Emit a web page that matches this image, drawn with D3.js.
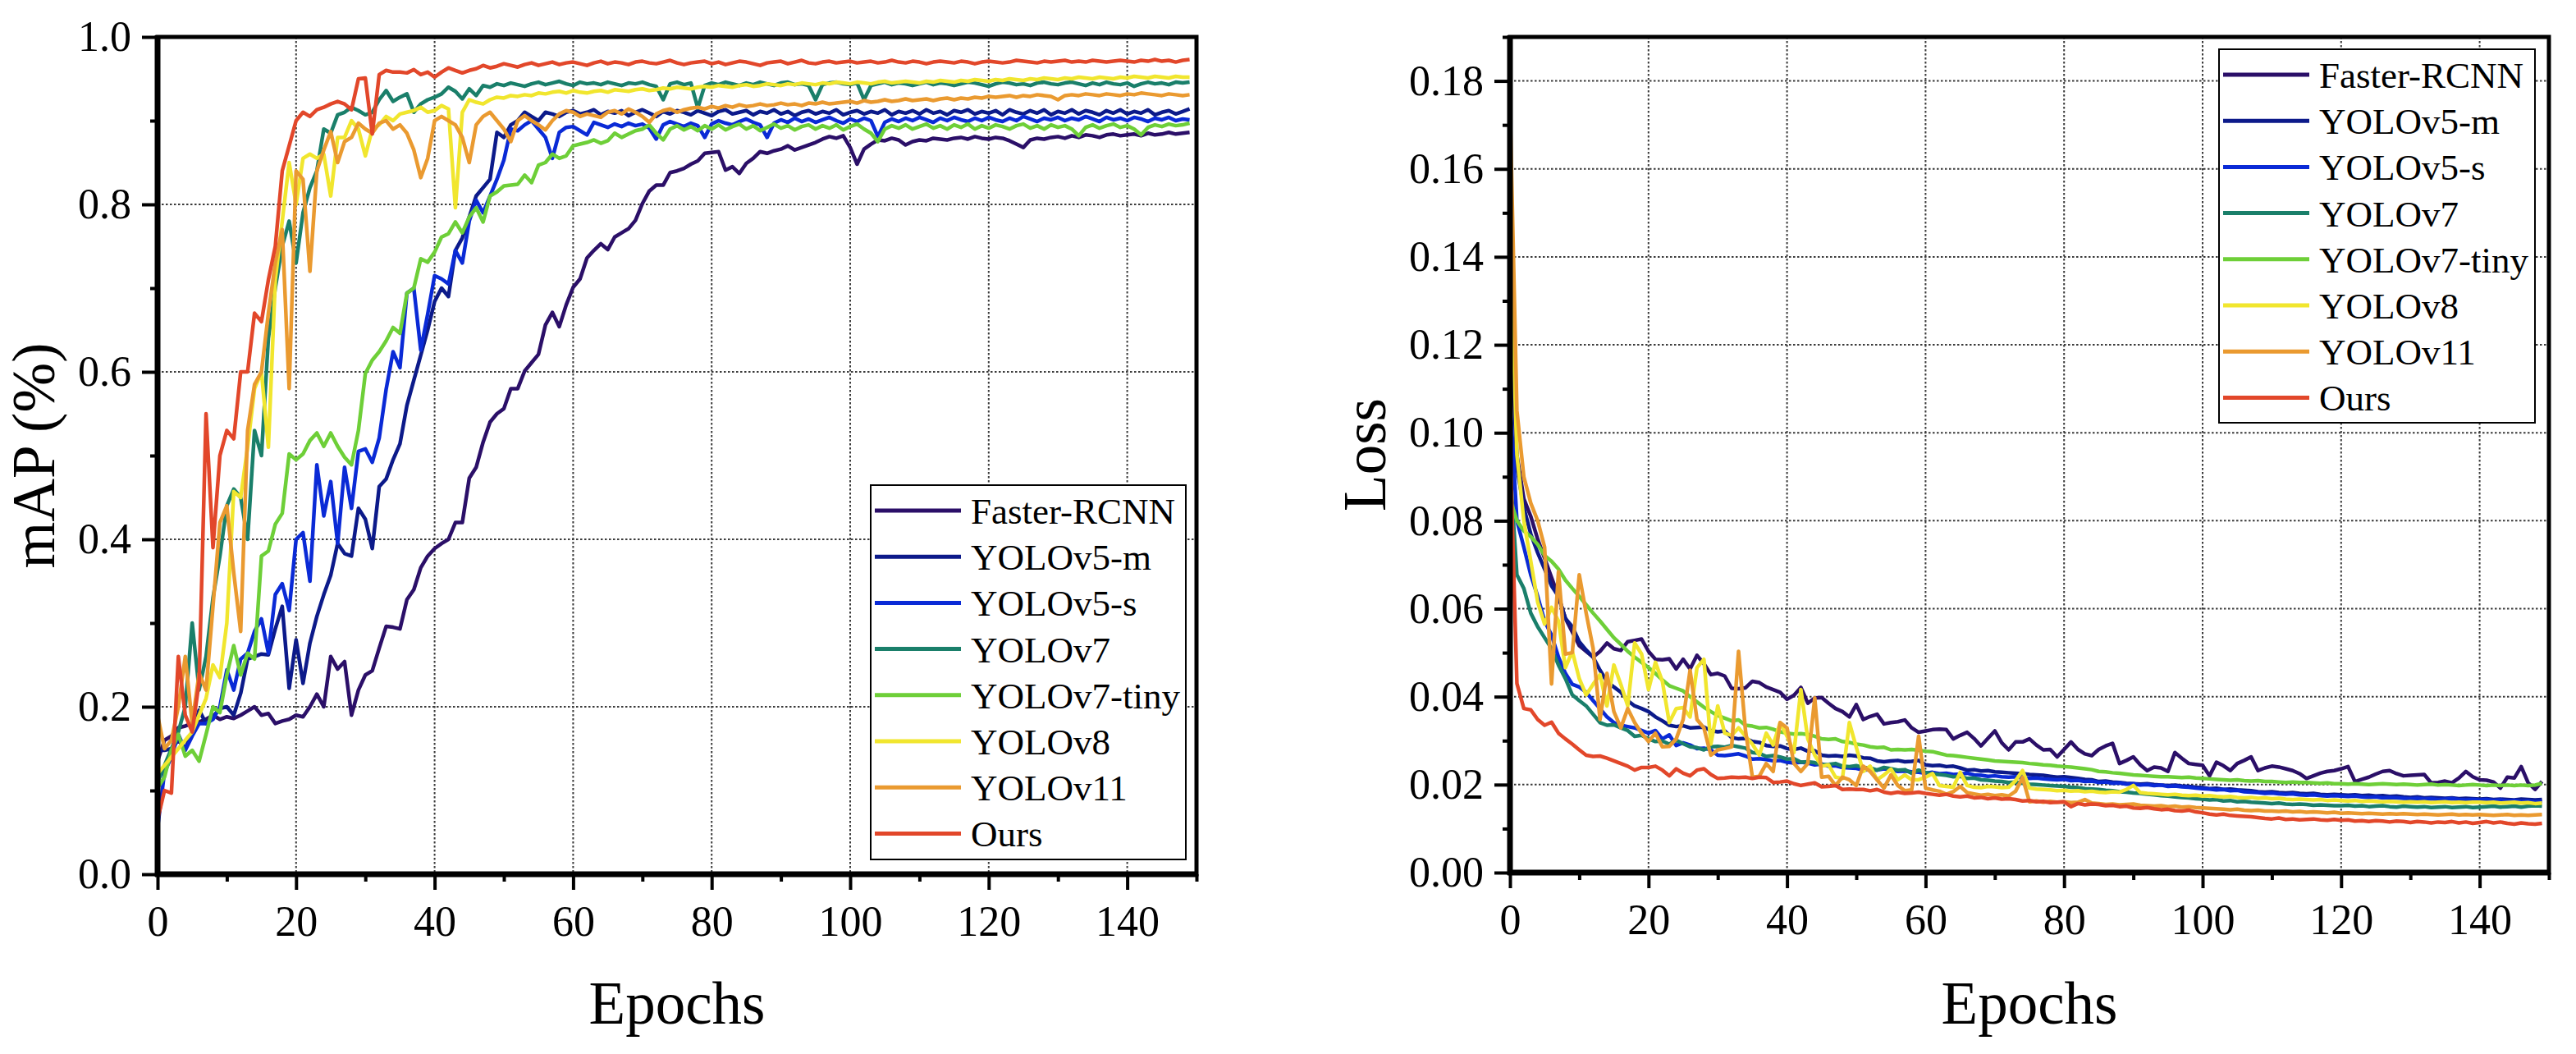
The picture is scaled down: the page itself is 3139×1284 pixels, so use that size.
<!DOCTYPE html>
<html>
<head>
<meta charset="utf-8">
<script src="https://cdn.jsdelivr.net/npm/d3@7"></script>
<style>
  html, body { margin: 0; padding: 0; background: #fff; }
  svg { display: block; }
</style>
</head>
<body>
<svg id="chart" width="3139" height="1284"></svg>
<script>
// ─── Data (one value per epoch 0..149) ────────────────────────────────────────
const seriesNames  = ['Faster-RCNN', 'YOLOv5-m', 'YOLOv5-s', 'YOLOv7', 'YOLOv7-tiny', 'YOLOv8', 'YOLOv11', 'Ours'];
const seriesColors = ['#2b0f68', '#0c1a8a', '#0a2ad6', '#1a7f6a', '#6ecf38', '#f1e62e', '#ea9a30', '#e2472a'];

const mapXTicks  = [0, 20, 40, 60, 80, 100, 120, 140];
const mapYTicks  = [0.0, 0.2, 0.4, 0.6, 0.8, 1.0];
const lossYTicks = [0.00, 0.02, 0.04, 0.06, 0.08, 0.10, 0.12, 0.14, 0.16, 0.18];

// mAP curves
const mapFaster = [
  0.135,0.16,0.165,0.175,0.177,0.18,0.182,0.185,0.19,0.185,
  0.188,0.186,0.19,0.195,0.20,0.19,0.192,0.18,0.183,0.185,
  0.19,0.188,0.20,0.215,0.20,0.26,0.245,0.254,0.19,0.22,
  0.238,0.243,0.27,0.296,0.295,0.293,0.328,0.340,0.366,0.38,
  0.389,0.395,0.40,0.42,0.42,0.473,0.486,0.516,0.54,0.550,
  0.556,0.58,0.58,0.601,0.611,0.621,0.656,0.671,0.654,0.680,
  0.701,0.711,0.736,0.745,0.753,0.746,0.761,0.766,0.771,0.781,
  0.801,0.816,0.823,0.823,0.838,0.840,0.843,0.848,0.852,0.861,
  0.862,0.863,0.841,0.845,0.837,0.849,0.855,0.863,0.861,0.864,
  0.866,0.870,0.865,0.868,0.871,0.874,0.878,0.881,0.879,0.882,
  0.868,0.848,0.866,0.872,0.877,0.876,0.879,0.877,0.871,0.875,
  0.877,0.876,0.879,0.878,0.877,0.879,0.880,0.878,0.881,0.879,
  0.878,0.880,0.879,0.876,0.872,0.868,0.877,0.879,0.878,0.880,
  0.881,0.879,0.882,0.880,0.883,0.882,0.880,0.883,0.884,0.882,
  0.883,0.884,0.882,0.885,0.883,0.884,0.886,0.884,0.885,0.886
];
const mapV5m = [
  0.148,0.148,0.150,0.160,0.150,0.170,0.196,0.180,0.188,0.198,
  0.20,0.19,0.216,0.257,0.26,0.263,0.262,0.293,0.32,0.222,
  0.28,0.228,0.276,0.308,0.334,0.357,0.395,0.383,0.38,0.437,
  0.424,0.389,0.463,0.472,0.495,0.514,0.56,0.59,0.62,0.65,
  0.684,0.70,0.69,0.745,0.76,0.785,0.81,0.82,0.83,0.886,
  0.88,0.895,0.90,0.91,0.905,0.90,0.91,0.908,0.905,0.91,
  0.912,0.908,0.910,0.913,0.907,0.911,0.909,0.912,0.906,0.910,
  0.913,0.909,0.905,0.911,0.908,0.912,0.910,0.907,0.912,0.909,
  0.906,0.911,0.913,0.908,0.910,0.912,0.907,0.911,0.909,0.913,
  0.908,0.911,0.906,0.910,0.912,0.908,0.911,0.909,0.913,0.907,
  0.910,0.912,0.908,0.911,0.909,0.913,0.907,0.911,0.909,0.912,
  0.908,0.913,0.909,0.911,0.907,0.912,0.910,0.913,0.908,0.911,
  0.909,0.912,0.907,0.913,0.910,0.908,0.912,0.909,0.913,0.907,
  0.911,0.909,0.913,0.908,0.912,0.910,0.907,0.912,0.909,0.913,
  0.908,0.911,0.909,0.913,0.907,0.910,0.912,0.908,0.911,0.914
];
const mapV5s = [
  0.055,0.122,0.14,0.167,0.148,0.165,0.18,0.18,0.185,0.20,
  0.244,0.22,0.257,0.264,0.29,0.305,0.264,0.334,0.347,0.315,
  0.40,0.408,0.35,0.489,0.428,0.469,0.395,0.486,0.437,0.505,
  0.508,0.492,0.521,0.579,0.624,0.605,0.694,0.70,0.626,0.669,
  0.715,0.711,0.705,0.745,0.73,0.78,0.805,0.79,0.81,0.83,
  0.853,0.89,0.888,0.895,0.90,0.89,0.88,0.855,0.886,0.892,
  0.893,0.888,0.883,0.898,0.895,0.892,0.896,0.893,0.897,0.894,
  0.896,0.891,0.878,0.895,0.899,0.896,0.893,0.897,0.894,0.880,
  0.896,0.900,0.897,0.895,0.899,0.902,0.898,0.895,0.880,0.897,
  0.901,0.898,0.903,0.899,0.902,0.898,0.901,0.904,0.900,0.897,
  0.902,0.899,0.903,0.900,0.881,0.898,0.902,0.899,0.903,0.900,
  0.904,0.901,0.898,0.903,0.900,0.904,0.901,0.899,0.903,0.900,
  0.904,0.901,0.899,0.903,0.900,0.905,0.902,0.899,0.903,0.901,
  0.904,0.900,0.903,0.901,0.905,0.902,0.899,0.904,0.901,0.903,
  0.900,0.904,0.902,0.899,0.903,0.901,0.904,0.900,0.902,0.901
];
const mapV7 = [
  0.11,0.13,0.15,0.17,0.20,0.30,0.22,0.26,0.33,0.38,
  0.44,0.46,0.45,0.40,0.53,0.50,0.64,0.70,0.75,0.78,
  0.73,0.79,0.82,0.84,0.89,0.885,0.907,0.91,0.916,0.912,
  0.907,0.91,0.925,0.936,0.923,0.928,0.932,0.91,0.92,0.925,
  0.928,0.932,0.940,0.935,0.926,0.938,0.930,0.942,0.940,0.944,
  0.942,0.945,0.943,0.941,0.944,0.946,0.943,0.945,0.947,0.944,
  0.942,0.946,0.944,0.945,0.943,0.946,0.944,0.942,0.945,0.944,
  0.946,0.943,0.941,0.925,0.944,0.946,0.943,0.945,0.915,0.942,
  0.945,0.943,0.946,0.944,0.942,0.945,0.943,0.946,0.944,0.942,
  0.945,0.946,0.943,0.944,0.942,0.925,0.943,0.945,0.946,0.944,
  0.943,0.945,0.925,0.942,0.944,0.946,0.943,0.945,0.944,0.942,
  0.944,0.946,0.943,0.945,0.944,0.942,0.944,0.946,0.945,0.943,
  0.941,0.944,0.946,0.945,0.943,0.944,0.942,0.945,0.946,0.944,
  0.943,0.945,0.946,0.944,0.942,0.945,0.943,0.946,0.944,0.943,
  0.945,0.941,0.944,0.946,0.944,0.945,0.943,0.946,0.945,0.946
];
const mapV7tiny = [
  0.103,0.116,0.148,0.167,0.141,0.148,0.135,0.167,0.20,0.193,
  0.238,0.273,0.238,0.264,0.257,0.38,0.386,0.418,0.431,0.502,
  0.495,0.502,0.518,0.527,0.511,0.527,0.511,0.498,0.489,0.53,
  0.598,0.614,0.624,0.637,0.653,0.646,0.694,0.70,0.735,0.731,
  0.743,0.761,0.765,0.779,0.766,0.785,0.796,0.779,0.81,0.815,
  0.822,0.823,0.824,0.835,0.826,0.847,0.850,0.860,0.855,0.858,
  0.870,0.872,0.874,0.877,0.873,0.876,0.885,0.880,0.884,0.888,
  0.890,0.895,0.885,0.877,0.890,0.894,0.889,0.893,0.888,0.894,
  0.890,0.895,0.889,0.893,0.896,0.890,0.894,0.888,0.892,0.896,
  0.891,0.894,0.889,0.893,0.895,0.890,0.894,0.891,0.895,0.889,
  0.893,0.896,0.890,0.885,0.875,0.890,0.894,0.891,0.895,0.890,
  0.893,0.896,0.891,0.894,0.890,0.895,0.892,0.896,0.890,0.894,
  0.891,0.895,0.893,0.890,0.894,0.896,0.891,0.894,0.890,0.895,
  0.892,0.894,0.890,0.882,0.892,0.895,0.891,0.894,0.896,0.892,
  0.894,0.890,0.883,0.892,0.895,0.893,0.896,0.894,0.895,0.897
];
const mapV8 = [
  0.12,0.13,0.14,0.15,0.16,0.17,0.19,0.21,0.25,0.235,
  0.30,0.457,0.45,0.51,0.58,0.60,0.51,0.71,0.78,0.85,
  0.80,0.855,0.86,0.855,0.86,0.81,0.88,0.88,0.90,0.89,
  0.858,0.89,0.895,0.905,0.90,0.908,0.91,0.912,0.916,0.91,
  0.912,0.918,0.914,0.796,0.91,0.925,0.922,0.920,0.925,0.928,
  0.927,0.930,0.929,0.931,0.930,0.933,0.932,0.934,0.935,0.933,
  0.936,0.934,0.933,0.935,0.936,0.934,0.937,0.936,0.935,0.937,
  0.938,0.936,0.937,0.939,0.938,0.940,0.939,0.938,0.940,0.941,
  0.940,0.942,0.941,0.940,0.942,0.943,0.941,0.942,0.944,0.943,
  0.942,0.944,0.943,0.945,0.944,0.943,0.945,0.944,0.946,0.945,
  0.944,0.946,0.945,0.944,0.946,0.947,0.945,0.946,0.947,0.946,
  0.945,0.947,0.946,0.948,0.947,0.946,0.948,0.947,0.949,0.948,
  0.947,0.949,0.948,0.950,0.949,0.948,0.950,0.949,0.951,0.950,
  0.949,0.951,0.950,0.952,0.951,0.950,0.952,0.951,0.950,0.952,
  0.951,0.953,0.952,0.951,0.953,0.952,0.951,0.953,0.952,0.952
];
const mapV11 = [
  0.19,0.15,0.16,0.20,0.26,0.18,0.24,0.22,0.32,0.42,
  0.44,0.36,0.29,0.53,0.585,0.60,0.67,0.73,0.77,0.58,
  0.84,0.83,0.72,0.84,0.865,0.887,0.85,0.875,0.88,0.897,
  0.89,0.885,0.897,0.90,0.89,0.895,0.885,0.865,0.832,0.855,
  0.90,0.905,0.90,0.895,0.88,0.85,0.895,0.905,0.91,0.90,
  0.89,0.875,0.90,0.906,0.90,0.895,0.889,0.90,0.908,0.912,
  0.910,0.905,0.908,0.906,0.904,0.910,0.912,0.908,0.914,0.910,
  0.905,0.898,0.908,0.912,0.914,0.910,0.913,0.915,0.916,0.914,
  0.917,0.915,0.918,0.916,0.919,0.917,0.918,0.920,0.918,0.919,
  0.921,0.919,0.920,0.918,0.921,0.920,0.922,0.920,0.921,0.922,
  0.923,0.921,0.924,0.922,0.923,0.925,0.923,0.924,0.926,0.924,
  0.925,0.926,0.924,0.926,0.927,0.925,0.927,0.926,0.928,0.927,
  0.929,0.928,0.929,0.930,0.928,0.930,0.929,0.931,0.930,0.929,
  0.925,0.930,0.931,0.930,0.932,0.931,0.930,0.932,0.931,0.930,
  0.932,0.931,0.933,0.932,0.931,0.930,0.932,0.931,0.930,0.931
];
const mapOurs = [
  0.065,0.10,0.097,0.26,0.19,0.17,0.23,0.55,0.39,0.50,
  0.53,0.52,0.60,0.60,0.67,0.66,0.71,0.75,0.84,0.87,
  0.90,0.91,0.905,0.913,0.916,0.92,0.923,0.92,0.913,0.95,
  0.951,0.884,0.955,0.96,0.958,0.958,0.957,0.961,0.955,0.958,
  0.952,0.958,0.963,0.960,0.957,0.960,0.962,0.966,0.963,0.965,
  0.968,0.966,0.964,0.967,0.969,0.966,0.968,0.970,0.967,0.969,
  0.970,0.968,0.966,0.969,0.971,0.968,0.970,0.969,0.967,0.970,
  0.971,0.969,0.968,0.970,0.972,0.969,0.967,0.969,0.970,0.971,
  0.968,0.970,0.967,0.969,0.971,0.970,0.968,0.966,0.969,0.970,
  0.971,0.968,0.970,0.972,0.969,0.968,0.970,0.971,0.969,0.970,
  0.971,0.969,0.970,0.971,0.969,0.970,0.972,0.970,0.969,0.971,
  0.970,0.968,0.970,0.971,0.970,0.969,0.971,0.970,0.968,0.970,
  0.971,0.970,0.969,0.970,0.972,0.971,0.970,0.969,0.971,0.970,
  0.971,0.972,0.970,0.971,0.970,0.972,0.971,0.970,0.971,0.972,
  0.971,0.970,0.972,0.971,0.973,0.971,0.972,0.970,0.972,0.973
];

// Loss curves
const lossFaster = [
  0.128,0.095,0.085,0.081,0.0758,0.0715,0.0671,0.0628,0.0578,0.0547,
  0.0516,0.0503,0.049,0.0503,0.0522,0.0509,0.0505,0.0525,0.0528,0.0531,
  0.0503,0.0485,0.0484,0.0486,0.0463,0.0485,0.0463,0.0494,0.0475,0.045,
  0.0453,0.0447,0.0419,0.0418,0.042,0.0435,0.0432,0.0422,0.0416,0.041,
  0.0394,0.0403,0.0421,0.0385,0.0397,0.0398,0.0385,0.0373,0.0366,0.0354,
  0.0382,0.0348,0.0355,0.036,0.0338,0.0341,0.0343,0.0347,0.0329,0.0319,
  0.0322,0.0325,0.0326,0.0325,0.0304,0.0312,0.0319,0.0305,0.0288,0.0305,
  0.0322,0.0295,0.0279,0.0297,0.0297,0.0304,0.029,0.0279,0.028,0.0263,
  0.028,0.0297,0.028,0.027,0.0266,0.028,0.0288,0.0294,0.0248,0.0255,
  0.0263,0.0245,0.0232,0.024,0.0238,0.023,0.0273,0.026,0.0248,0.0246,
  0.0244,0.022,0.0251,0.0243,0.0232,0.0248,0.0255,0.0263,0.0232,0.0238,
  0.0242,0.024,0.0236,0.0232,0.0225,0.0214,0.022,0.0226,0.023,0.0232,
  0.0236,0.0241,0.0207,0.0212,0.0217,0.0224,0.023,0.0232,0.0225,0.022,
  0.0221,0.0222,0.0223,0.0204,0.0205,0.0208,0.0204,0.0215,0.023,0.0218,
  0.0211,0.021,0.0206,0.0192,0.0217,0.0215,0.0241,0.0204,0.0189,0.0207
];
const lossV5m = [
  0.135,0.092,0.083,0.077,0.0727,0.069,0.0652,0.0628,0.0578,0.0559,
  0.0525,0.0506,0.049,0.046,0.0435,0.0422,0.041,0.0391,0.0379,0.0373,
  0.0366,0.0354,0.0345,0.0335,0.0332,0.0334,0.0329,0.033,0.0331,0.0323,
  0.032,0.0322,0.0307,0.0304,0.0305,0.0298,0.0296,0.0289,0.0287,0.0288,
  0.0282,0.028,0.0283,0.0276,0.0277,0.0267,0.0265,0.0266,0.0264,0.0267,
  0.0265,0.0261,0.026,0.0254,0.0252,0.0254,0.0255,0.0252,0.0253,0.0255,
  0.0245,0.0243,0.0244,0.0241,0.0242,0.0238,0.0233,0.0234,0.0231,0.0232,
  0.0229,0.0228,0.0227,0.0226,0.0225,0.0223,0.0222,0.0221,0.0219,0.0217,
  0.0218,0.0216,0.0214,0.0212,0.0211,0.0207,0.0208,0.0206,0.0205,0.0203,
  0.0202,0.0201,0.0202,0.02,0.0199,0.0198,0.0199,0.0197,0.0196,0.0194,
  0.0193,0.0191,0.0192,0.0189,0.019,0.0188,0.0187,0.0186,0.0184,0.0183,
  0.0184,0.0182,0.0181,0.0182,0.018,0.0179,0.018,0.0178,0.0177,0.0178,
  0.0177,0.0176,0.0177,0.0175,0.0176,0.0174,0.0175,0.0173,0.0174,0.0172,
  0.0171,0.0172,0.017,0.0171,0.017,0.0169,0.017,0.0168,0.0169,0.0168,
  0.0167,0.0168,0.0166,0.0167,0.0166,0.0165,0.0167,0.0166,0.0165,0.0166
];
const lossV5s = [
  0.108,0.080,0.074,0.0677,0.0628,0.0572,0.054,0.049,0.0453,0.0428,
  0.0422,0.041,0.0391,0.0373,0.0354,0.0341,0.0335,0.0332,0.0329,0.0323,
  0.0317,0.0323,0.0304,0.0313,0.0289,0.0295,0.029,0.0282,0.0283,0.0279,
  0.0267,0.0266,0.0268,0.027,0.0265,0.0258,0.0259,0.0257,0.0254,0.0255,
  0.0251,0.0249,0.0251,0.0249,0.0245,0.0247,0.0242,0.0243,0.0239,0.0238,
  0.0237,0.0233,0.0234,0.0233,0.0236,0.0234,0.023,0.0231,0.0229,0.0228,
  0.0226,0.0228,0.0225,0.0226,0.0223,0.0224,0.0226,0.0222,0.0221,0.0219,
  0.022,0.0218,0.0217,0.0218,0.0215,0.0214,0.0215,0.0213,0.0212,0.0211,
  0.0212,0.0209,0.021,0.0207,0.0208,0.0205,0.0206,0.0203,0.0204,0.0201,
  0.0202,0.0199,0.02,0.0198,0.0199,0.0196,0.0197,0.0195,0.0194,0.0192,
  0.0191,0.019,0.0188,0.0189,0.0186,0.0187,0.0184,0.0183,0.0182,0.018,
  0.0181,0.0179,0.0178,0.0179,0.0177,0.0176,0.0177,0.0175,0.0174,0.0175,
  0.0174,0.0173,0.0174,0.0172,0.0171,0.0172,0.017,0.0171,0.017,0.0169,
  0.0168,0.0169,0.0167,0.0168,0.0166,0.0167,0.0168,0.0166,0.0165,0.0166,
  0.0165,0.0166,0.0164,0.0165,0.0163,0.0164,0.0162,0.0163,0.0161,0.0162
];
const lossV7 = [
  0.092,0.0677,0.0646,0.059,0.0559,0.0534,0.0509,0.0472,0.0441,0.0404,
  0.0391,0.0379,0.036,0.0341,0.0335,0.0336,0.0329,0.0323,0.031,0.0312,
  0.0304,0.0298,0.0299,0.0292,0.0301,0.0293,0.0286,0.0284,0.0279,0.0286,
  0.0287,0.0285,0.0289,0.0286,0.0283,0.0273,0.0271,0.0264,0.0266,0.0263,
  0.0258,0.0259,0.0251,0.0252,0.025,0.0245,0.0246,0.0248,0.0242,0.0241,
  0.0243,0.0239,0.0238,0.0233,0.0239,0.0236,0.0233,0.0234,0.0226,0.0233,
  0.0228,0.0224,0.0223,0.0221,0.0218,0.0219,0.0214,0.0215,0.0211,0.021,
  0.0208,0.0207,0.0205,0.0206,0.0203,0.0201,0.02,0.0199,0.0198,0.0197,
  0.0196,0.0194,0.0193,0.0191,0.019,0.0189,0.0187,0.0186,0.0184,0.0183,
  0.0181,0.018,0.0178,0.0177,0.0175,0.0174,0.0172,0.0171,0.017,0.0168,
  0.0167,0.0165,0.0166,0.0163,0.0164,0.0161,0.0162,0.016,0.0159,0.0158,
  0.0157,0.0158,0.0156,0.0155,0.0156,0.0155,0.0153,0.0154,0.0153,0.0152,
  0.0152,0.0153,0.0151,0.0152,0.015,0.0151,0.0152,0.015,0.0149,0.0151,
  0.015,0.0149,0.015,0.0148,0.0149,0.015,0.0148,0.0149,0.015,0.0148,
  0.0149,0.015,0.0151,0.0149,0.015,0.0151,0.0149,0.0151,0.0152,0.0151
];
const lossV7tiny = [
  0.085,0.080,0.0777,0.0764,0.0746,0.0721,0.0708,0.069,0.0665,0.0646,
  0.0628,0.0609,0.059,0.0572,0.0553,0.0534,0.0519,0.0503,0.049,0.0478,
  0.0466,0.0453,0.0438,0.0425,0.0419,0.0413,0.04,0.0388,0.0376,0.0366,
  0.0357,0.0351,0.0345,0.0347,0.0335,0.0333,0.0329,0.0330,0.0326,0.032,
  0.0317,0.0315,0.0316,0.0314,0.031,0.0304,0.0303,0.0304,0.0298,0.0296,
  0.0292,0.029,0.0286,0.0284,0.0285,0.0279,0.028,0.0279,0.028,0.0278,
  0.0276,0.0275,0.0271,0.0267,0.0266,0.0264,0.0262,0.026,0.0258,0.0256,
  0.0254,0.0253,0.0252,0.0251,0.0250,0.0248,0.0247,0.0245,0.0244,0.0242,
  0.0241,0.0240,0.0238,0.0236,0.0234,0.023,0.0229,0.0227,0.0226,0.0224,
  0.0222,0.0221,0.0220,0.0219,0.0218,0.0218,0.0217,0.0216,0.0217,0.0215,
  0.0214,0.0213,0.0212,0.0211,0.021,0.0211,0.0209,0.0208,0.0209,0.0207,
  0.0207,0.0206,0.0205,0.0206,0.0205,0.0205,0.0204,0.0203,0.0204,0.0202,
  0.0202,0.0201,0.0202,0.0201,0.02,0.0201,0.0202,0.0201,0.02,0.0201,
  0.02,0.0199,0.02,0.0201,0.0199,0.02,0.0199,0.0198,0.0199,0.02,
  0.0199,0.0198,0.0199,0.0198,0.0199,0.0198,0.0199,0.0198,0.0199,0.0203
];
const lossV8 = [
  0.145,0.095,0.080,0.0708,0.0615,0.0565,0.0603,0.0572,0.0466,0.0503,
  0.0441,0.0404,0.0428,0.045,0.0379,0.0472,0.0428,0.0379,0.0522,0.0497,
  0.0416,0.0478,0.0435,0.0341,0.0373,0.0375,0.0354,0.0466,0.0485,0.0292,
  0.0379,0.0317,0.0312,0.0329,0.031,0.0292,0.0267,0.0317,0.029,0.0341,
  0.031,0.0273,0.0416,0.0304,0.0267,0.0242,0.0245,0.0217,0.0214,0.0341,
  0.0285,0.023,0.0242,0.0211,0.0222,0.0235,0.0211,0.0222,0.0211,0.0211,
  0.0217,0.0225,0.0198,0.0196,0.0194,0.0228,0.0198,0.0194,0.0193,0.0196,
  0.0195,0.0193,0.0194,0.0209,0.0232,0.0192,0.019,0.0189,0.0188,0.0186,
  0.0187,0.0185,0.0186,0.0184,0.0185,0.0183,0.0182,0.0184,0.0183,0.0189,
  0.0198,0.0182,0.018,0.0179,0.0178,0.0177,0.0178,0.0176,0.0175,0.0176,
  0.0174,0.0175,0.0173,0.0172,0.0173,0.0171,0.017,0.0171,0.0169,0.017,
  0.0168,0.0169,0.0167,0.0166,0.0167,0.0166,0.0165,0.0166,0.0164,0.0165,
  0.0164,0.0163,0.0164,0.0162,0.0163,0.0162,0.0161,0.0162,0.0161,0.016,
  0.0161,0.016,0.0161,0.0159,0.016,0.0161,0.0159,0.016,0.0159,0.016,
  0.016,0.0159,0.016,0.0158,0.0159,0.016,0.0158,0.0159,0.0157,0.0158
];
const lossV11 = [
  0.175,0.105,0.09,0.084,0.080,0.074,0.0429,0.0684,0.0497,0.05,
  0.0677,0.059,0.051,0.0348,0.0453,0.0366,0.0329,0.0373,0.0341,0.0317,
  0.0298,0.0317,0.0286,0.0287,0.0304,0.0348,0.046,0.0348,0.0329,0.0267,
  0.0279,0.0282,0.0286,0.0503,0.0323,0.0217,0.0219,0.0248,0.023,0.0341,
  0.0329,0.0248,0.023,0.0248,0.0397,0.0217,0.0219,0.0198,0.0217,0.0211,
  0.0198,0.0242,0.023,0.0211,0.0192,0.0222,0.0198,0.0186,0.0188,0.031,
  0.0192,0.0188,0.0185,0.0178,0.0184,0.0196,0.0182,0.0179,0.0176,0.0178,
  0.0175,0.0177,0.0174,0.0185,0.0216,0.0161,0.0163,0.016,0.0162,0.016,
  0.0161,0.0159,0.016,0.0166,0.0158,0.0157,0.0155,0.0156,0.0154,0.0155,
  0.0156,0.0153,0.0152,0.0151,0.0152,0.015,0.0151,0.0149,0.015,0.0148,
  0.0147,0.0146,0.0145,0.0144,0.0143,0.0144,0.0142,0.0141,0.0142,0.014,
  0.014,0.0139,0.014,0.0138,0.0139,0.0137,0.0138,0.0137,0.0136,0.0137,
  0.0135,0.0136,0.0135,0.0134,0.0135,0.0134,0.0133,0.0134,0.0133,0.0134,
  0.0133,0.0132,0.0133,0.0132,0.0131,0.0132,0.0133,0.0131,0.0132,0.0131,
  0.0132,0.0131,0.013,0.0131,0.0132,0.013,0.0131,0.013,0.0131,0.0132
];
const lossOurs = [
  0.098,0.043,0.0373,0.037,0.0348,0.0335,0.0342,0.0317,0.0304,0.0292,
  0.0279,0.0267,0.0264,0.0265,0.026,0.0254,0.0248,0.0242,0.0233,0.0239,
  0.0239,0.0242,0.0233,0.022,0.0236,0.0226,0.022,0.0233,0.0236,0.0223,
  0.0214,0.0215,0.0217,0.0216,0.0217,0.0214,0.0217,0.0216,0.0205,0.0206,
  0.0208,0.0202,0.0198,0.0201,0.0204,0.0195,0.0196,0.0198,0.0189,0.019,
  0.0189,0.0189,0.0186,0.0189,0.0183,0.018,0.0183,0.018,0.0181,0.0183,
  0.018,0.0178,0.0176,0.0178,0.0174,0.0172,0.0174,0.017,0.0171,0.0168,
  0.017,0.0167,0.0168,0.0166,0.0163,0.0164,0.0161,0.0162,0.0159,0.016,
  0.0161,0.015,0.0157,0.0154,0.0156,0.0155,0.0152,0.0153,0.015,0.0151,
  0.0147,0.0146,0.0148,0.0145,0.0143,0.0144,0.0141,0.014,0.0142,0.0138,
  0.0136,0.0133,0.0131,0.0133,0.013,0.0129,0.0128,0.0127,0.0125,0.0123,
  0.0122,0.0124,0.0121,0.0122,0.012,0.0121,0.0122,0.012,0.0119,0.0121,
  0.0119,0.012,0.0117,0.0118,0.0116,0.0118,0.0117,0.0115,0.0117,0.0116,
  0.0114,0.0116,0.0115,0.0113,0.0115,0.0114,0.0116,0.0113,0.0115,0.0112,
  0.0114,0.0116,0.0113,0.0115,0.0112,0.011,0.0113,0.0111,0.011,0.0112
];

const mapSeries  = [mapFaster, mapV5m, mapV5s, mapV7, mapV7tiny, mapV8, mapV11, mapOurs];
const lossSeries = [lossFaster, lossV5m, lossV5s, lossV7, lossV7tiny, lossV8, lossV11, lossOurs];

// ─── Shared styling ───────────────────────────────────────────────────────────
const FONT = '"Liberation Serif", "Times New Roman", Times, serif';
const svg  = d3.select('#chart');
svg.append('rect').attr('width', 3139).attr('height', 1284).attr('fill', '#fff');

// ─── One panel ────────────────────────────────────────────────────────────────
function drawPanel(opts) {
  const { id, left, right, top, bottom, yMax, yTicks, yMinor, yFormat,
          series, yTitle, yTitleX, legend } = opts;

  const x = d3.scaleLinear().domain([0, 150]).range([left, right]);
  const y = d3.scaleLinear().domain([0, yMax]).range([bottom, top]);
  const g = svg.append('g').attr('id', id);

  g.append('clipPath').attr('id', id + '-clip')
    .append('rect')
    .attr('x', left).attr('y', top)
    .attr('width', right - left).attr('height', bottom - top);

  // Grid
  const grid = g.append('g')
    .attr('stroke', '#3a3a3a')
    .attr('stroke-width', 2)
    .attr('stroke-dasharray', '2.5 2.5');
  grid.selectAll('.gx')
    .data(mapXTicks.filter(t => t > 0))
    .join('line')
    .attr('x1', d => x(d)).attr('x2', d => x(d))
    .attr('y1', top).attr('y2', bottom);
  grid.selectAll('.gy')
    .data(yTicks.filter(t => t > 0 && t < yMax))
    .join('line')
    .attr('x1', left).attr('x2', right)
    .attr('y1', d => y(d)).attr('y2', d => y(d));

  // Curves
  const line = d3.line()
    .x((d, i) => x(i))
    .y(d => y(d));
  g.append('g')
    .attr('clip-path', `url(#${id}-clip)`)
    .selectAll('path')
    .data(series)
    .join('path')
    .attr('fill', 'none')
    .attr('stroke', (d, i) => seriesColors[i])
    .attr('stroke-width', 4.5)
    .attr('stroke-linejoin', 'round')
    .attr('d', line);

  // Axes — major ticks with labels, minor ticks without
  const xAxis = g.append('g')
    .attr('transform', `translate(0,${bottom})`)
    .call(d3.axisBottom(x).tickValues(mapXTicks).tickSize(19).tickPadding(19).tickFormat(d3.format('d')));
  g.append('g')
    .attr('transform', `translate(0,${bottom})`)
    .call(d3.axisBottom(x).tickValues(d3.range(10, 151, 20)).tickSize(9).tickFormat(''));

  const yAxis = g.append('g')
    .attr('transform', `translate(${left},0)`)
    .call(d3.axisLeft(y).tickValues(yTicks).tickSize(19).tickPadding(13).tickFormat(d3.format(yFormat)));
  g.append('g')
    .attr('transform', `translate(${left},0)`)
    .call(d3.axisLeft(y).tickValues(yMinor).tickSize(9).tickFormat(''));

  g.selectAll('.domain').remove();
  g.selectAll('.tick line').attr('stroke', '#000').attr('stroke-width', 4);
  g.selectAll('.tick text')
    .attr('font-family', FONT)
    .attr('font-size', 52)
    .attr('fill', '#000');

  // Frame
  g.append('rect')
    .attr('x', left).attr('y', top)
    .attr('width', right - left).attr('height', bottom - top)
    .attr('fill', 'none').attr('stroke', '#000').attr('stroke-width', 5);
  g.append('line')
    .attr('x1', left).attr('x2', left).attr('y1', top - 2).attr('y2', bottom + 3)
    .attr('stroke', '#000').attr('stroke-width', 7);
  g.append('line')
    .attr('x1', left - 3).attr('x2', right + 2).attr('y1', bottom).attr('y2', bottom)
    .attr('stroke', '#000').attr('stroke-width', 7);

  // Axis titles
  g.append('text')
    .attr('x', (left + right) / 2).attr('y', 1247)
    .attr('text-anchor', 'middle')
    .attr('font-family', FONT).attr('font-size', 73)
    .text('Epochs');
  g.append('text')
    .attr('transform', `translate(${yTitleX},${(top + bottom) / 2}) rotate(-90)`)
    .attr('text-anchor', 'middle')
    .attr('font-family', FONT).attr('font-size', 73)
    .text(yTitle);

  // Legend
  const lg = g.append('g');
  lg.append('rect')
    .attr('x', legend.x).attr('y', legend.y)
    .attr('width', legend.w).attr('height', legend.h)
    .attr('fill', '#fff').attr('stroke', '#000').attr('stroke-width', 2);
  const items = lg.selectAll('.item')
    .data(seriesNames)
    .join('g')
    .attr('transform', (d, i) => `translate(${legend.x + 5},${legend.y + 31 + i * 56.2})`);
  items.append('line')
    .attr('x1', 0).attr('x2', 105)
    .attr('stroke', (d, i) => seriesColors[i])
    .attr('stroke-width', 5);
  items.append('text')
    .attr('x', 117).attr('y', 16)
    .attr('font-family', FONT).attr('font-size', 45)
    .text(d => d);
}

drawPanel({
  id: 'map', left: 192, right: 1458, top: 45, bottom: 1065,
  yMax: 1.0, yTicks: mapYTicks, yMinor: [0.1, 0.3, 0.5, 0.7, 0.9], yFormat: '.1f',
  series: mapSeries, yTitle: 'mAP (%)', yTitleX: 66,
  legend: { x: 1061, y: 591, w: 384, h: 456 }
});

drawPanel({
  id: 'loss', left: 1840, right: 3106, top: 45, bottom: 1063,
  yMax: 0.19, yTicks: lossYTicks, yMinor: [0.01, 0.03, 0.05, 0.07, 0.09, 0.11, 0.13, 0.15, 0.17, 0.19], yFormat: '.2f',
  series: lossSeries, yTitle: 'Loss', yTitleX: 1688,
  legend: { x: 2704, y: 60, w: 385, h: 455 }
});
</script>
</body>
</html>
